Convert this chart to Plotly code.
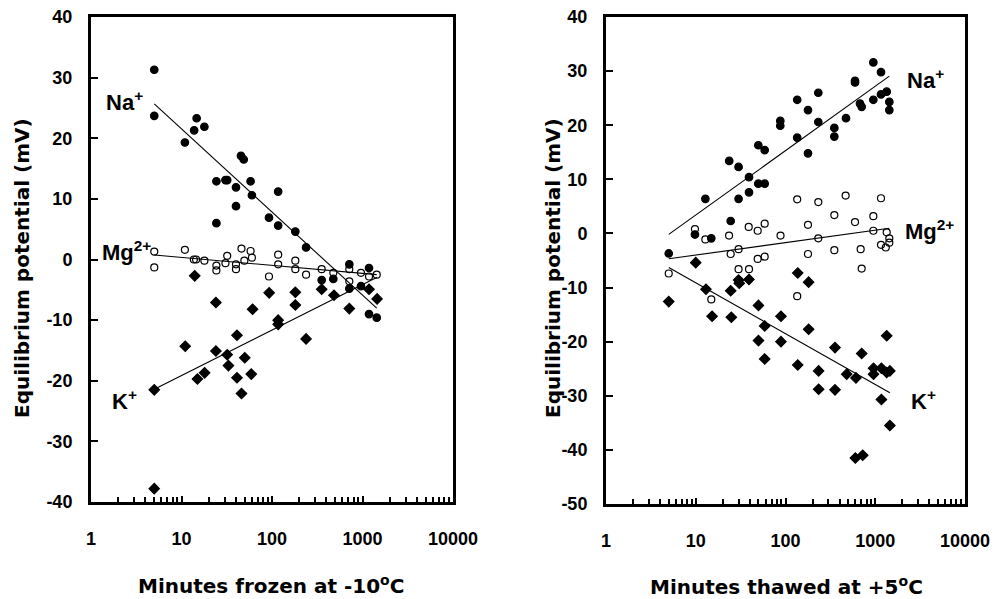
import numpy as np
import plotly.graph_objects as go

# ---------------- Left panel: minutes frozen at -10 C ----------------
frz_na_x = [5, 5, 10.9, 13.8, 14.7, 17.9, 24.3, 24.3, 30.6, 32, 40, 40, 45.4, 48.7, 58, 60,
            92.6, 117, 117, 181, 238, 354, 476, 715, 715, 962, 1180, 1180, 1436]
frz_na_y = [31.3, 23.7, 19.3, 21.3, 23.3, 21.9, 12.9, 6.0, 13.1, 13.1, 11.9, 8.8, 17.1, 16.5, 12.9, 10.6,
            6.9, 11.2, 5.6, 4.6, 2.0, -3.4, -3.2, -0.8, -4.8, -4.4, -1.4, -9.0, -9.6]

frz_mg_x = [5, 5, 10.9, 13.7, 14.5, 17.9, 24.3, 24.3, 30.6, 32, 40, 40, 46, 49.5, 58, 60,
            92.6, 117, 117, 181, 181, 238, 354, 476, 715, 715, 962, 1180, 1436]
frz_mg_y = [1.3, -1.3, 1.6, 0.0, 0.0, -0.2, -1.0, -1.8, -0.6, 0.6, -0.8, -1.6, 1.8, -0.2, 1.4, 0.3,
            -2.8, 0.8, -0.8, -0.2, -1.6, -2.5, -1.6, -2.2, -1.6, -3.6, -2.2, -2.8, -2.5]

frz_k_x = [5, 5, 11, 14, 15, 18, 24, 24, 32, 33, 41, 41, 46, 50, 59, 61,
           93, 117, 117, 181, 181, 238, 354, 484, 715, 1180, 1450]
frz_k_y = [-21.5, -37.8, -14.3, -2.7, -19.7, -18.7, -7.1, -15.1, -15.7, -17.5, -12.5, -19.5, -22.1, -16.2, -18.9, -8.2,
           -5.5, -10.0, -10.7, -5.4, -7.5, -13.1, -4.9, -5.9, -8.1, -4.9, -6.5]

# ---------------- Right panel: minutes thawed at +5 C ----------------
thw_na_x = [5, 9.8, 12.8, 14.9, 23.6, 24.5, 30, 30, 39.2, 39.2, 49.8, 49.8, 58.6, 58.6, 87.5, 87.5,
            135, 135, 178, 178, 232, 232, 350, 350, 472, 595, 595, 676, 706, 952, 952, 1159, 1159, 1341, 1435, 1435]
thw_na_y = [-3.7, -0.2, 6.4, -0.9, 13.4, 2.3, 12.3, 6.4, 10.4, 7.6, 16.3, 9.2, 15.4, 9.2, 20.8, 19.9,
            24.7, 17.7, 22.8, 14.8, 26.0, 20.6, 19.5, 17.9, 21.3, 28.2, 27.9, 24.0, 23.4, 31.6, 24.7, 29.8, 25.7, 26.2, 24.3, 22.8]

thw_mg_x = [5, 9.8, 12.8, 14.9, 23.5, 24.5, 30, 30, 38.9, 39.2, 49, 49, 58.6, 58.6, 88,
            135, 135, 178, 178, 232, 232, 350, 350, 468, 595, 688, 706, 952, 952, 1159, 1159, 1310, 1341, 1435, 1435]
thw_mg_y = [-7.4, 0.8, -1.1, -12.2, -0.4, -3.8, -2.9, -6.6, 1.2, -6.6, 0.5, -4.7, 1.8, -4.3, -0.4,
            6.3, -11.6, 1.6, -3.8, 5.8, -0.9, 3.4, -3.1, 7.0, 2.1, -2.9, -6.5, 3.2, 0.5, 6.5, -2.1, -2.6, 0.2, -0.9, -1.7]

thw_k_x = [5, 10, 13, 15.2, 24.5, 24.9, 30, 30.5, 39.2, 50, 50, 58.6, 58.6, 89, 89, 137, 137, 181, 181,
           234, 234, 356, 356, 481, 610, 600, 706, 725, 957, 957, 1171, 1171, 1341, 1341, 1455, 1455]
thw_k_y = [-12.6, -5.4, -10.3, -15.3, -10.6, -15.5, -8.6, -9.2, -8.5, -13.3, -19.8, -17.1, -23.2, -15.3, -20.0, -7.3, -24.3, -9.0, -17.7,
           -25.4, -28.8, -21.1, -28.9, -26.0, -26.7, -41.5, -22.2, -41.0, -24.9, -26.0, -24.9, -30.7, -18.9, -25.7, -25.4, -35.5]

x_tick_vals = [1, 10, 100, 1000, 10000]
x_tick_text = ["1", "10", "100", "1000", "10000"]
y_left_ticks = [-40, -30, -20, -10, 0, 10, 20, 30, 40]
y_right_ticks = [-50, -40, -30, -20, -10, 0, 10, 20, 30, 40]

ion_labels = ["Na<sup>+</sup>", "Mg<sup>2+</sup>", "K<sup>+</sup>"]
x_titles = ["Minutes frozen at -10<sup>o</sup>C", "Minutes thawed at +5<sup>o</sup>C"]
y_title = "Equilibrium potential (mV)"

fig = go.Figure()


def add_series(x, y, symbol, size, xa, ya):
    fig.add_trace(go.Scatter(
        x=x, y=y, mode="markers", xaxis=xa, yaxis=ya, showlegend=False,
        marker=dict(symbol=symbol, size=size, color="black",
                    line=dict(color="black", width=1.2))))
    lx = np.log10(np.array(x, dtype=float))
    k, b = np.polyfit(lx, np.array(y, dtype=float), 1)
    xs = np.array([min(x), max(x)], dtype=float)
    fig.add_trace(go.Scatter(
        x=xs, y=k * np.log10(xs) + b, mode="lines", xaxis=xa, yaxis=ya,
        showlegend=False, line=dict(color="black", width=1.1)))


add_series(frz_na_x, frz_na_y, "circle", 7.5, "x", "y")
add_series(frz_mg_x, frz_mg_y, "circle-open", 7, "x", "y")
add_series(frz_k_x, frz_k_y, "diamond", 8, "x", "y")
add_series(thw_na_x, thw_na_y, "circle", 7.5, "x2", "y2")
add_series(thw_mg_x, thw_mg_y, "circle-open", 7, "x2", "y2")
add_series(thw_k_x, thw_k_y, "diamond", 8, "x2", "y2")

W, H = 997, 599
tickfont = dict(family="Liberation Sans, Arial", size=18, color="black", weight="bold")
minor_vals = [m * 10 ** d for d in range(4) for m in range(2, 10)]

xcommon = dict(type="log", range=[0, 4], showgrid=False, zeroline=False, automargin=False,
               showline=True, linecolor="black", linewidth=3, mirror=True,
               ticks="inside", ticklen=6, tickwidth=2, tickcolor="black",
               tickmode="array", tickvals=x_tick_vals, ticktext=x_tick_text,
               tickfont=tickfont, ticklabelstandoff=18,
               minor=dict(ticks="inside", ticklen=5, tickwidth=2, tickcolor="black",
                          tickmode="array", tickvals=minor_vals, showgrid=False))
ycommon = dict(showgrid=False, zeroline=False, showline=True, linecolor="black", automargin=False,
               linewidth=3, mirror=True, ticks="inside", ticklen=7, tickwidth=2,
               tickcolor="black", tickfont=tickfont, ticklabelstandoff=12, tickmode="array")

fig.update_layout(
    template="none",
    width=W, height=H, margin=dict(l=0, r=0, t=0, b=0, autoexpand=False),
    paper_bgcolor="white", plot_bgcolor="white", showlegend=False,
    xaxis=dict(domain=[91 / W, 453 / W], anchor="y", **xcommon),
    yaxis=dict(domain=[1 - 502 / H, 1 - 17 / H], anchor="x", range=[-40, 40],
               tickvals=y_left_ticks, ticktext=[str(v) for v in y_left_ticks], **ycommon),
    xaxis2=dict(domain=[606 / W, 965 / W], anchor="y2", **xcommon),
    yaxis2=dict(domain=[1 - 504 / H, 1 - 17 / H], anchor="x2", range=[-50, 40],
                tickvals=y_right_ticks, ticktext=[str(v) for v in y_right_ticks], **ycommon),
)

labfont = dict(family="Liberation Sans, Arial", size=22, color="black", weight="bold")
ann = []
# ion labels (x in log10 units for log axes)
left_pos = [(0.365, 26.1), (0.387, 1.4), (0.365, -23.2)]
right_pos = [(3.565, 28.5), (3.599, 0.6), (3.543, -30.8)]
for lab, (lx, ly) in zip(ion_labels, left_pos):
    ann.append(dict(x=lx, y=ly, xref="x", yref="y", text=lab, showarrow=False, font=labfont,
                    xanchor="center", yanchor="middle"))
for lab, (lx, ly) in zip(ion_labels, right_pos):
    ann.append(dict(x=lx, y=ly, xref="x2", yref="y2", text=lab, showarrow=False, font=labfont,
                    xanchor="center", yanchor="middle"))

titlefont = dict(family="DejaVu Sans", size=20, color="black", weight="bold")
ann.append(dict(x=270.5 / W, y=1 - 585 / H, xref="paper", yref="paper", text=x_titles[0],
                showarrow=False, font=titlefont, xanchor="center", yanchor="middle"))
ann.append(dict(x=786.7 / W, y=1 - 586 / H, xref="paper", yref="paper", text=x_titles[1],
                showarrow=False, font=titlefont, xanchor="center", yanchor="middle"))
ann.append(dict(x=22 / W, y=1 - 268 / H, xref="paper", yref="paper", text=y_title,
                textangle=-90, showarrow=False, font=titlefont, xanchor="center", yanchor="middle"))
ann.append(dict(x=553 / W, y=1 - 268 / H, xref="paper", yref="paper", text=y_title,
                textangle=-90, showarrow=False, font=titlefont, xanchor="center", yanchor="middle"))
fig.update_layout(annotations=ann)

fig.write_html("out.html")
